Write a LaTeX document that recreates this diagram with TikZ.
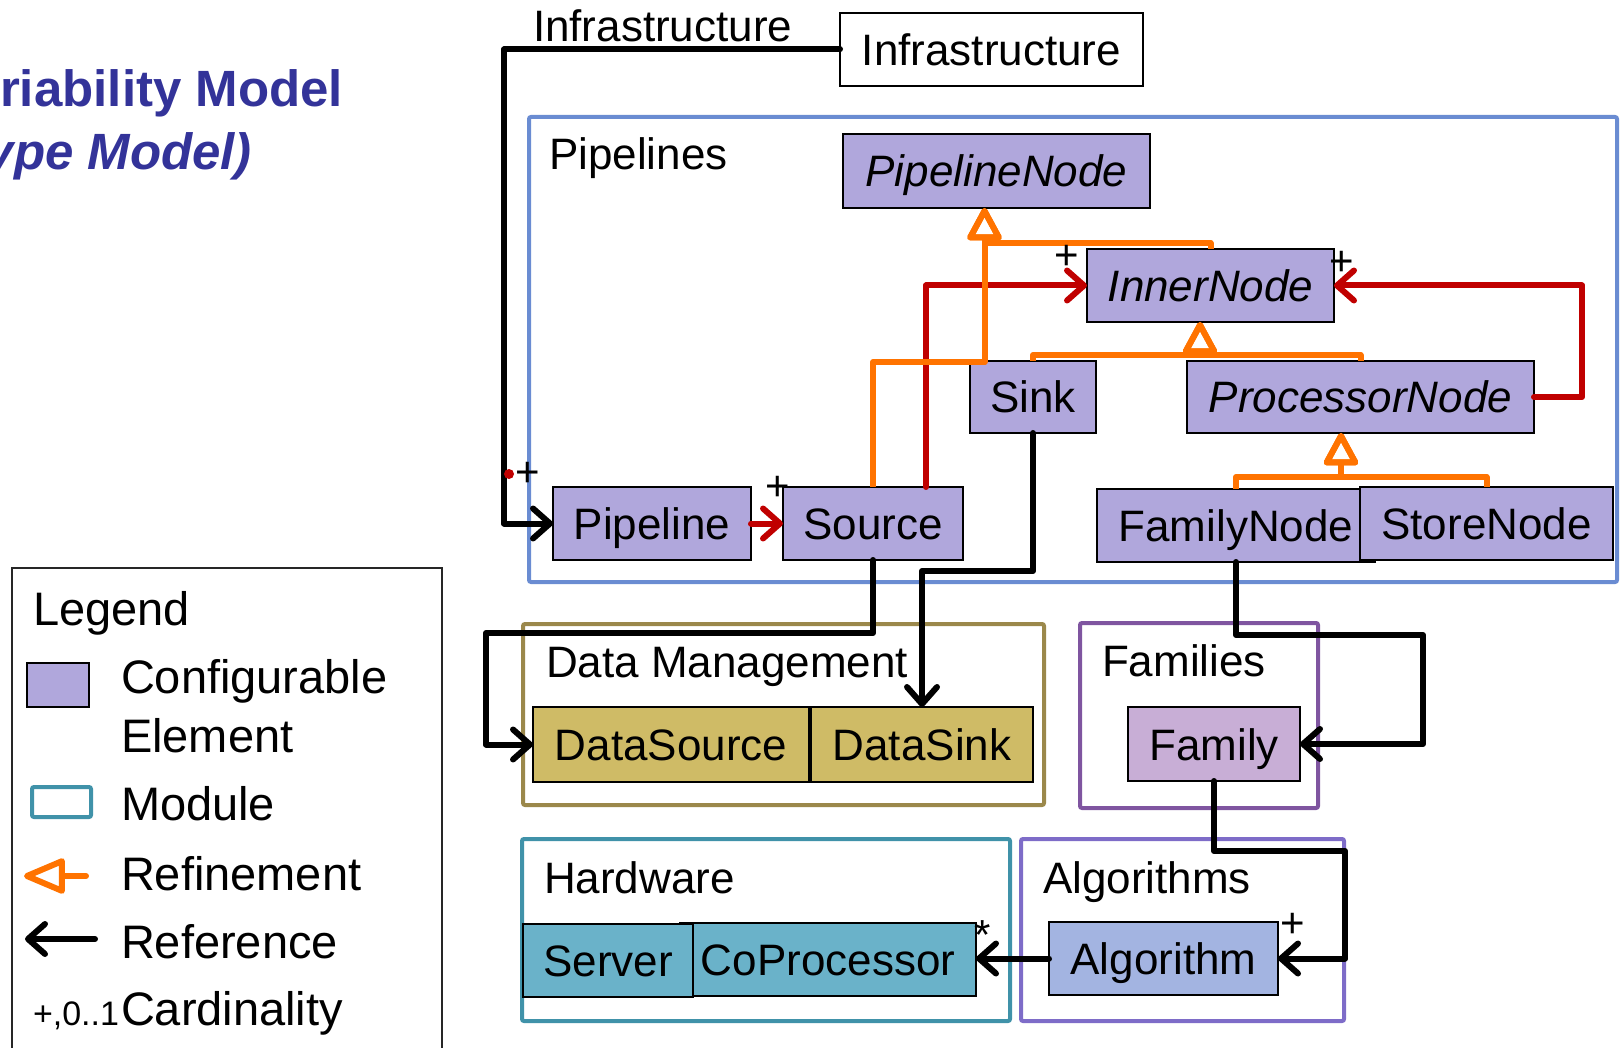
\documentclass[tikz,border=0pt]{standalone}
\usepackage{fontspec}
\setmainfont{Liberation Sans}
\usetikzlibrary{arrows.meta}

\definecolor{cfgfill}{HTML}{B0A7DC}
\definecolor{titleblue}{HTML}{333399}
\definecolor{pipeframe}{HTML}{6A8CD2}
\definecolor{dmframe}{HTML}{9B884B}
\definecolor{dmfill}{HTML}{CFBB66}
\definecolor{famframe}{HTML}{7F55A0}
\definecolor{famfill}{HTML}{C8AED6}
\definecolor{hwframe}{HTML}{4092A9}
\definecolor{hwfill}{HTML}{6AB2C9}
\definecolor{algframe}{HTML}{7E6CC8}
\definecolor{algfill}{HTML}{A3B4E1}
\definecolor{refineorange}{HTML}{FF7300}
\definecolor{refred}{HTML}{C00000}

\newcommand\fsmain{\fontsize{44}{52}\selectfont}
\newcommand\fslegend{\fontsize{47}{56}\selectfont}
\newcommand\fstitle{\fontsize{51}{60}\selectfont}
\newcommand\fscard{\fontsize{42}{48}\selectfont}
\newcommand\fscardsmall{\fontsize{34}{40}\selectfont}

\tikzset{
  plainnode/.style={inner sep=0pt, outer sep=0pt},
  elem/.style={plainnode, draw=black, line width=1.8pt, text height=32pt, text depth=0pt, font=\fsmain},
  cfg/.style={elem, fill=cfgfill},
  module/.style={plainnode, line width=4pt, rounded corners=2pt},
  lbl/.style={plainnode, anchor=base west, font=\fsmain},
  lglbl/.style={plainnode, anchor=base west, font=\fslegend},
  card/.style={plainnode, font=\fscard},
  refline/.style={line width=6pt, line join=round, line cap=round,
    -{Straight Barb[length=17pt,width=30pt,round]}},
  redref/.style={refline, draw=refred},
  refinement/.style={draw=refineorange, line width=6pt, line join=round,
    -{Triangle[open,length=36pt,width=37pt,round]}},
}

\begin{document}
\begin{tikzpicture}[x=1pt,y=-1pt]
\useasboundingbox (0,0) rectangle (1620,1048);

% heading (left part of the slide title)
\node[plainnode, anchor=base east, font=\fstitle\bfseries, text=titleblue] (title1) at (343,107) {riability Model};
\node[plainnode, anchor=base east, font=\fstitle\bfseries\itshape, text=titleblue] (title2) at (252,170) {ype Model)};

% legend
\node[plainnode, draw=black!85, line width=1.5pt, minimum width=430pt, minimum height=492pt] (legend) at (227,814) {};
\node[lglbl] (lgtitle) at (33,625) {Legend};
\node[cfg, minimum width=62pt, minimum height=44pt] (lgcfg) at (58,685) {};
\node[lglbl] (lgcfgA) at (121,693) {Configurable};
\node[lglbl] (lgcfgB) at (121,752) {Element};
\node[module, draw=hwframe, minimum width=59pt, minimum height=30pt] (lgmod) at (61.5,802) {};
\node[lglbl] (lgmodt) at (121,820) {Module};
\coordinate (lgrefA) at (86,876);
\coordinate (lgrefB) at (24,876);
\draw[draw=refineorange, line width=6pt, line cap=round, -{Triangle[open,length=46pt,width=37pt,round]}] (lgrefA) -- (lgrefB);
\node[lglbl] (lgrefint) at (121,890) {Refinement};
\coordinate (lgrA) at (95,939);
\coordinate (lgrB) at (25,939);
\draw[refline] (lgrA) -- (lgrB);
\node[lglbl] (lgreft) at (121,958) {Reference};
\node[plainnode, anchor=base west, font=\fscardsmall] (lgcard) at (33,1025) {+,0..1};
\node[lglbl] (lgcardt) at (121,1025) {Cardinality};

% modules
\node[module, draw=pipeframe, minimum width=1088pt, minimum height=465pt] (pipelines) at (1073,349.5) {};
\node[module, draw=dmframe, minimum width=521pt, minimum height=181pt] (datamgmt) at (783.5,714.5) {};
\node[module, draw=famframe, minimum width=238pt, minimum height=185pt] (families) at (1199,715.5) {};
\node[module, draw=hwframe, minimum width=488pt, minimum height=182pt] (hardware) at (766,930) {};
\node[module, draw=algframe, minimum width=323pt, minimum height=182pt] (algorithms) at (1182.5,930) {};

\node[lbl] (infralbl) at (533,42) {Infrastructure};
\node[lbl] (pipelbl) at (549,170) {Pipelines};
\node[lbl] (dmlbl) at (546,677) {Data Management};
\node[lbl] (famlbl) at (1102,676) {Families};
\node[lbl] (hwlbl) at (544,893) {Hardware};
\node[lbl] (alglbl) at (1043,893) {Algorithms};

% elements
\node[elem, fill=white, minimum width=303pt, minimum height=73pt] (infra) at (991.5,49.5) {Infrastructure};
\node[cfg, minimum width=307pt, minimum height=74pt] (pipelinenode) at (996.5,171) {\itshape PipelineNode};
\node[cfg, minimum width=247pt, minimum height=73pt] (innernode) at (1210.5,285.5) {\itshape InnerNode};
\node[cfg, minimum width=126pt, minimum height=72pt] (sink) at (1033,397) {Sink};
\node[cfg, minimum width=347pt, minimum height=72pt] (processornode) at (1360.5,397) {\itshape ProcessorNode};
\node[cfg, minimum width=198pt, minimum height=73pt] (pipeline) at (652,523.5) {Pipeline};
\node[cfg, minimum width=180pt, minimum height=73pt] (source) at (873,523.5) {Source};
\node[cfg, minimum width=278pt, minimum height=73pt] (familynode) at (1236,525.5) {FamilyNode};
\node[cfg, minimum width=253pt, minimum height=73pt] (storenode) at (1486.5,523.5) {StoreNode};
\node[elem, fill=dmfill, minimum width=276pt, minimum height=75pt] (datasource) at (671,744.5) {DataSource};
\node[elem, fill=dmfill, minimum width=222pt, minimum height=75pt] (datasink) at (922,744.5) {DataSink};
\node[elem, fill=famfill, minimum width=172pt, minimum height=74pt] (family) at (1214,744) {Family};
\node[elem, fill=hwfill, minimum width=296pt, minimum height=73pt] (coprocessor) at (828,959.5) {CoProcessor};
\node[elem, fill=hwfill, minimum width=170pt, minimum height=73pt] (server) at (608,960.5) {Server};
\node[elem, fill=algfill, minimum width=229pt, minimum height=73pt] (algorithm) at (1163.5,958.5) {Algorithm};

% red references inside the pipeline module
\coordinate (srcR) at ([xshift=53pt]source.north);
\coordinate (prA) at (1582,285.5);
\draw[redref] (pipeline.east) -- (source.west);
\draw[redref] (srcR) |- (innernode.west);
\draw[redref] (processornode.east) -| (prA) -- (innernode.east);

% refinements
\coordinate (pnTip) at ([xshift=-12pt]pipelinenode.south);
\coordinate (srcO) at (984.5,362);
\draw[refinement] (source.north) |- (srcO) -- (pnTip);
\draw[refinement] (innernode.north) -- ++(0,-6) -| (pnTip);
\coordinate (inTip) at ([xshift=-10.5pt]innernode.south);
\coordinate (inJ) at (1200,355);
\draw[refinement] (sink.north) |- (inJ) -- (inTip);
\draw[refinement] (processornode.north) |- (inJ) -- (inTip);
\coordinate (prTip) at ([xshift=-19.5pt]processornode.south);
\coordinate (prJ) at (1341,477);
\draw[refinement] (familynode.north) |- (prJ) -- (prTip);
\draw[refinement] (storenode.north) |- (prJ) -- (prTip);

% references between modules
\coordinate (inBend) at (504,523.5);
\draw[refline] (infra.west) -| (inBend) -- (pipeline.west);
\coordinate (dsA) at (486,633);
\draw[refline] (source.south) |- (dsA) |- (datasource.west);
\coordinate (skA) at (922,571);
\draw[refline] (sink.south) |- (skA) -- (datasink.north);
\coordinate (fnA) at (1423,635);
\draw[refline] (familynode.south) |- (fnA) |- (family.east);
\coordinate (faA) at (1345,851);
\draw[refline] (family.south) |- (faA) |- (algorithm.east);
\draw[refline] (algorithm.west) -- (algorithm.west -| coprocessor.east);

% cardinalities
\node[plainnode, circle, fill=refred, minimum size=10pt] (infradot) at (509,474) {};
\node[card] (c1) at (528,474) {+};
\node[card] (c2) at (778,488) {+};
\node[card] (c3) at (1067,257) {+};
\node[card] (c4) at (1342,263) {+};
\node[card] (c5) at (1293,925) {+};
\node[card] (c6) at (983,935) {*};
\end{tikzpicture}
\end{document}
